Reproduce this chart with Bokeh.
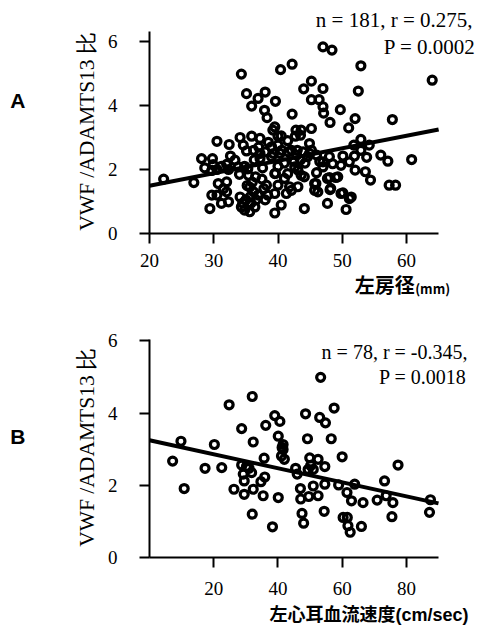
from bokeh.plotting import figure
from bokeh.models import Range1d, FixedTicker, Label, LinearAxis
from bokeh.layouts import column
from bokeh.embed import file_html
from bokeh.resources import INLINE

# ---------------- data: panel A (left atrial diameter vs VWF/ADAMTS13 ratio)
a_x = [47.0, 48.4, 34.3, 40.4, 42.2, 52.9, 64.0, 45.2, 44.0, 47.0, 52.5,
       35.1, 36.9, 38.0, 35.9, 39.6, 45.2, 46.4, 47.0, 47.1, 49.7,
       37.9, 38.3, 42.2, 48.1, 52.0, 51.0, 57.8, 39.5, 39.2, 40.0,
       42.8, 43.6, 45.2, 42.7, 43.5, 30.5, 32.4, 34.1, 35.9, 37.2, 34.6, 35.1,
       40.0, 39.0, 44.9, 52.9, 51.8, 54.2, 52.9, 56.0, 57.1, 60.8,
       48.0, 50.1, 51.9, 53.8, 47.0, 47.0, 48.5, 49.8, 51.1, 52.0, 53.6, 54.4,
       48.0, 49.0, 45.9, 48.1, 50.1, 51.4, 51.1, 57.3, 58.3, 47.7, 50.6, 44.1,
       22.2, 26.9, 32.6, 28.1, 29.8, 37.2, 37.2,
       28.6, 29.9, 30.5, 29.7, 31.2, 32.0, 32.3, 34.8, 35.3, 33.8,
       35.4, 36.5, 36.0, 35.6, 36.2, 35.7, 36.9, 35.2, 36.6,
       30.7, 32.0, 30.5, 32.0, 32.3, 31.2, 29.7, 29.4, 31.5,
       34.1, 34.3, 34.8, 35.6, 36.4, 34.5, 35.0, 35.8,
       38.2, 38.4, 39.5, 39.5, 40.5, 39.6, 40.0, 37.5, 37.8, 38.0,
       39.0, 39.3, 40.3, 40.6, 41.6, 42.1, 42.9, 43.0, 43.9, 44.9, 45.2, 44.6,
       41.0, 42.5, 43.5, 44.2, 40.0,
       39.5, 41.5, 41.0, 41.8, 41.3, 42.1, 43.1, 43.6, 44.1, 43.1, 42.6,
       45.7, 46.2, 47.7, 48.2, 49.3, 49.8, 45.7,
       46.0, 46.5, 46.0, 40.5, 41.5, 38.5, 37.0, 36.2, 38.0,
       33.3, 36.3, 34.0, 37.6]
a_y = [5.83, 5.73, 4.98, 5.12, 5.29, 5.24, 4.79, 4.76, 4.52, 4.53, 4.45,
       4.37, 4.22, 4.42, 3.98, 4.13, 4.18, 4.18, 3.96, 3.76, 3.87,
       3.85, 3.62, 3.73, 3.47, 3.59, 3.30, 3.56, 3.33, 3.23, 3.04,
       3.23, 3.23, 3.28, 3.04, 3.07, 2.88, 2.78, 3.00, 3.04, 2.97, 2.76, 2.58,
       2.76, 2.71, 2.81, 2.94, 2.76, 2.76, 2.60, 2.45, 2.26, 2.31,
       2.40, 2.42, 2.42, 2.38, 2.24, 2.08, 2.18, 2.13, 2.24, 1.98, 1.93, 1.67,
       1.75, 1.75, 1.56, 1.37, 1.27, 1.14, 1.09, 1.51, 1.51, 0.94, 0.75, 0.78,
       1.70, 1.59, 2.42, 2.34, 2.34, 2.50, 2.34,
       2.05, 2.15, 2.00, 1.97, 2.10, 2.16, 2.00, 2.10, 2.02, 2.08,
       1.82, 1.77, 1.60, 1.45, 1.30, 1.15, 1.20, 1.50, 1.05,
       1.56, 1.61, 1.20, 1.30, 0.99, 0.94, 1.20, 0.78, 1.40,
       1.14, 0.83, 0.73, 0.68, 0.83, 0.95, 1.05, 0.95,
       1.51, 1.20, 1.25, 0.64, 0.89, 1.88, 1.51, 1.70, 1.40, 1.05,
       2.40, 2.50, 2.50, 2.60, 2.55, 2.60, 2.45, 2.60, 2.55, 2.50, 2.60, 2.40,
       2.20, 2.25, 2.30, 2.20, 2.10,
       1.87, 1.87, 1.72, 1.46, 1.25, 1.35, 1.46, 1.82, 1.77, 1.98, 2.08,
       1.56, 1.30, 1.72, 1.41, 1.77, 1.25, 1.35,
       2.45, 2.25, 1.90, 3.05, 2.90, 2.85, 2.70, 2.60, 2.55,
       2.29, 2.30, 1.85, 2.05]
a_line_x = [20, 65]
a_line_y = [1.49, 3.25]
a_xticks = [20, 30, 40, 50, 60]
a_yticks = [0, 2, 4, 6]
a_stats = ["n = 181, r = 0.275,", "P = 0.0002"]
a_xtitle = ["左房径", "(mm)"]

# ---------------- data: panel B (LAA flow velocity vs VWF/ADAMTS13 ratio)
b_x = [53.3, 32.0, 24.8, 57.5, 48.6, 39.0, 40.6, 53.0, 54.8, 36.2, 28.7, 40.1,
       9.8, 20.2, 32.3, 49.2, 56.6, 41.6, 41.6, 41.1, 42.0, 35.7, 49.9, 52.5,
       60.0, 7.2, 17.3, 22.5, 28.7, 31.0, 31.8, 29.2, 35.9, 34.7, 29.5, 32.3,
       26.3, 29.5, 35.4, 40.1, 10.8, 45.5, 46.0, 49.4, 51.0, 54.6, 51.0, 54.6,
       47.0, 47.1, 49.6, 52.5, 58.9, 63.9, 61.5, 62.9, 66.5, 70.9, 73.2, 73.7,
       75.8, 77.4, 87.5, 87.2, 75.5, 66.0, 62.5, 61.8, 60.3, 61.6, 54.4, 47.5,
       48.0, 38.3, 32.0, 30.2, 41.3, 50.2]
b_y = [4.99, 4.46, 4.23, 4.14, 3.98, 3.93, 3.77, 3.88, 3.73, 3.66, 3.57, 3.36,
       3.22, 3.13, 3.20, 3.29, 3.29, 3.13, 2.99, 2.81, 2.72, 2.75, 2.76, 2.72,
       2.79, 2.67, 2.47, 2.49, 2.56, 2.47, 2.35, 2.31, 2.23, 2.10, 2.12, 1.89,
       1.89, 1.75, 1.71, 1.66, 1.91, 2.47, 2.31, 2.44, 2.44, 2.52, 1.98, 2.03,
       1.91, 1.62, 1.69, 1.71, 2.01, 2.03, 1.80, 1.57, 1.52, 1.59, 2.12, 1.71,
       1.52, 2.56, 1.60, 1.25, 1.13, 0.86, 0.70, 0.88, 1.11, 1.11, 1.28, 1.22,
       0.95, 0.85, 1.20, 2.52, 3.05, 2.55]
b_line_x = [0, 90]
b_line_y = [3.25, 1.50]
b_xticks = [20, 40, 60, 80]
b_yticks = [0, 2, 4, 6]
b_stats = ["n = 78, r = -0.345,", "P = 0.0018"]
b_xtitle = "左心耳血流速度(cm/sec)"

y_title = "VWF /ADAMTS13 比"
SERIF = "Liberation Serif"
CJK = "Noto Sans CJK JP"
SANS_CJK = "Liberation Sans, Noto Sans CJK JP"


def make_panel(width, height, left, bottom, x_range, y_range, x_bounds, y_bounds,
               xticks, yticks, xstandoff):
    p = figure(width=width, height=height,
               x_range=Range1d(*x_range), y_range=Range1d(*y_range),
               output_backend="svg", toolbar_location=None,
               min_border_left=left, min_border_right=0,
               min_border_top=0, min_border_bottom=bottom)
    p.outline_line_color = None
    p.grid.visible = False
    p.background_fill_color = "white"
    p.border_fill_color = "white"
    xa, ya = p.xaxis[0], p.yaxis[0]
    for ax in (xa, ya):
        ax.axis_line_color = "black"
        ax.axis_line_width = 2
        ax.major_tick_line_color = "black"
        ax.major_tick_line_width = 2
        ax.major_tick_out = 10
        ax.major_tick_in = 0
        ax.minor_tick_line_color = None
        ax.major_label_text_font = SERIF
        ax.major_label_text_font_size = "19px"
        ax.major_label_text_color = "black"
    xa.bounds = x_bounds
    ya.bounds = y_bounds
    xa.ticker = FixedTicker(ticks=xticks)
    ya.ticker = FixedTicker(ticks=yticks)
    xa.major_label_standoff = xstandoff
    ya.major_label_standoff = 22
    return p


def text_axis(p, side, pos, text, font, size, standoff, style="normal",
              orientation="horizontal"):
    ax = LinearAxis(ticker=FixedTicker(ticks=[pos]),
                    major_label_overrides={pos: text})
    ax.axis_line_color = None
    ax.major_tick_line_color = None
    ax.minor_tick_line_color = None
    ax.major_tick_out = 0
    ax.major_tick_in = 0
    ax.major_label_standoff = standoff
    ax.major_label_text_font = font
    ax.major_label_text_font_size = size
    ax.major_label_text_font_style = style
    ax.major_label_text_color = "black"
    ax.major_label_orientation = orientation
    p.add_layout(ax, side)


def add_points(p, xs, ys, lx, ly):
    p.line(lx, ly, line_color="black", line_width=4)
    p.scatter(xs, ys, marker="circle", size=8, fill_color="white",
              fill_alpha=0, line_color="black", line_width=3.2)


def label(p, x, y, text, size):
    p.add_layout(Label(x=x, y=y, text=text, text_font=SERIF,
                       text_font_size=size, text_align="right",
                       text_baseline="middle", text_color="black"))


# ---- panel A
pa = make_panel(477, 320, 148, 87, (20, 71.05), (0, 7.28), (20, 65), (0, 6.3),
                a_xticks, a_yticks, 10)
add_points(pa, a_x, a_y, a_line_x, a_line_y)
label(pa, 70.28, 6.66, a_stats[0], "21px")
label(pa, 70.74, 5.83, a_stats[1], "21px")
text_axis(pa, "left", 3.19, y_title, SERIF, "21.5px", 5, orientation="parallel")
text_axis(pa, "left", 4.156, "A", "Liberation Sans", "21px", 47, style="bold")
text_axis(pa, "below", 56.62, a_xtitle[0], CJK, "20px", 0, style="bold")
text_axis(pa, "below", 64.07, a_xtitle[1], CJK, "13px", -23, style="bold")

# ---- panel B
pb = make_panel(477, 310, 149, 73, (0, 102.15), (0, 6.565), (0, 90), (0, 6.05),
                b_xticks, b_yticks, 14)
add_points(pb, b_x, b_y, b_line_x, b_line_y)
label(pb, 99.03, 5.68, b_stats[0], "20px")
label(pb, 98.72, 5.01, b_stats[1], "20px")
text_axis(pb, "left", 3.05, y_title, SERIF, "21.5px", 5, orientation="parallel")
text_axis(pb, "left", 3.35, "B", "Liberation Sans", "21px", 47, style="bold")
text_axis(pb, "below", 68.36, b_xtitle, SANS_CJK, "18px", 7, style="bold")

layout = column(pa, pb, spacing=0)
open("out.html", "w").write(file_html(layout, INLINE))
